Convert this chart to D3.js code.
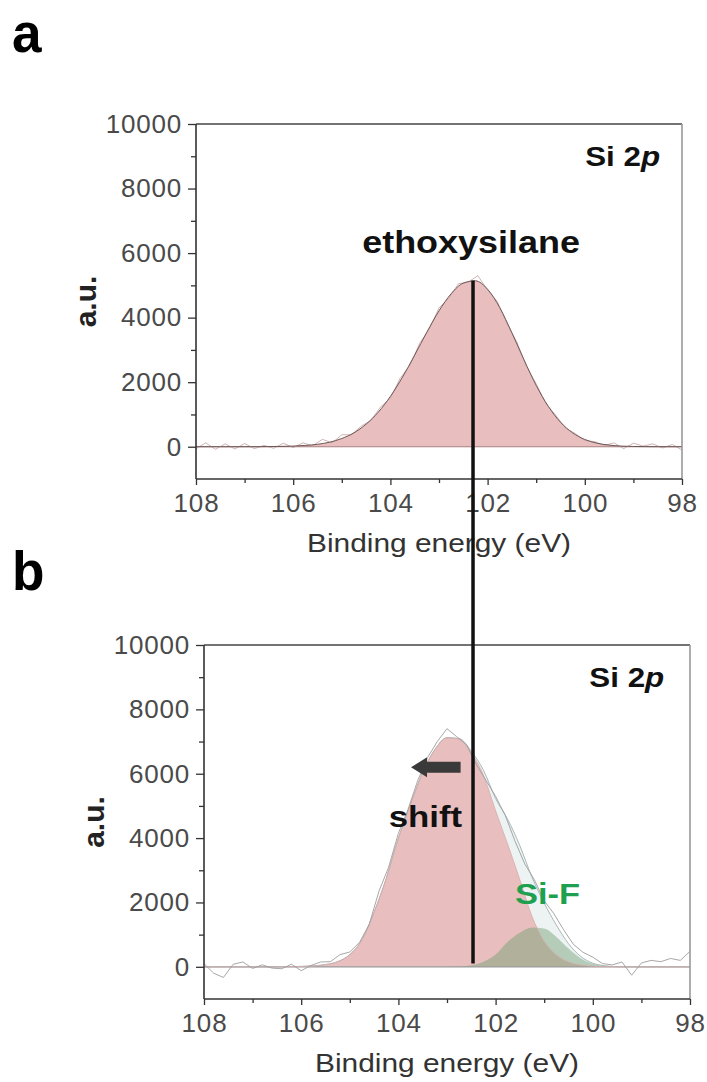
<!DOCTYPE html>
<html>
<head>
<meta charset="utf-8">
<script src="https://cdn.jsdelivr.net/npm/d3@7"></script>
<style>
  body { margin: 0; background: #fff; }
  svg { display: block; }
</style>
</head>
<body>
<svg id="fig" width="707" height="1082"></svg>
<script>
// values
const fitEnergy = [108, 107.75, 107.5, 107.25, 107, 106.75, 106.5, 106.25, 106, 105.75,
  105.5, 105.25, 105, 104.75, 104.5, 104.25, 104, 103.75, 103.5, 103.25,
  103, 102.75, 102.5, 102.25, 102, 101.75, 101.5, 101.25, 101, 100.75,
  100.5, 100.25, 100, 99.75, 99.5, 99.25, 99, 98.75, 98.5, 98.25, 98];

// panel a: ethoxysilane component
const fitA = [0, 0, 0, 0, 0, 0, 5, 10, 20, 40,
  75, 140, 255, 430, 700, 1070, 1560, 2160, 2840, 3550,
  4210, 4740, 5070, 5140, 4880, 4310, 3530, 2690, 1900, 1250,
  760, 430, 225, 110, 50, 20, 8, 3, 0, 0, 0];

// panel b: main (shifted) component and Si-F component
const fitBMain = [0, 0, 0, 0, 0, 0, 0, 5, 12, 30,
  70, 160, 380, 840, 1700, 2750, 4000, 5050, 6050, 6750,
  7120, 7080, 6650, 5950, 4850, 3800, 2700, 1560, 790, 370,
  150, 55, 18, 5, 0, 0, 0, 0, 0, 0, 0];
const fitBSiF = [0, 0, 0, 0, 0, 0, 0, 0, 0, 0,
  0, 0, 0, 0, 0, 0, 0, 0, 0, 0,
  0, 15, 50, 160, 380, 780, 1060, 1220, 1190, 930,
  570, 270, 95, 28, 6, 0, 0, 0, 0, 0, 0];

const rawEnergy = [108, 107.8, 107.6, 107.4, 107.2, 107, 106.8, 106.6, 106.4, 106.2,
  106, 105.8, 105.6, 105.4, 105.2, 105, 104.8, 104.6, 104.4, 104.2,
  104, 103.8, 103.6, 103.4, 103.2, 103, 102.8, 102.6, 102.4, 102.2,
  102, 101.8, 101.6, 101.4, 101.2, 101, 100.8, 100.6, 100.4, 100.2,
  100, 99.8, 99.6, 99.4, 99.2, 99, 98.8, 98.6, 98.4, 98.2, 98];
const rawA = [-60, 120, -80, 90, -70, 100, -60, 40, -50, 110,
  -30, 120, 30, 230, 120, 370, 370, 640, 810, 1240,
  1500, 2120, 2510, 3200, 3640, 4300, 4600, 5050, 5100, 5300,
  4850, 4500, 3800, 3250, 2480, 1950, 1330, 980, 580, 410,
  190, 160, 40, 120, -60, 110, 20, 90, -40, 70, -100];
const rawB = [100, -200, -330, 80, 150, -50, 60, -40, -60, 80,
  -120, 40, 150, 160, 380, 460, 760, 1320, 2350, 3100,
  4150, 4900, 5800, 6500, 7000, 7400, 7150, 6900, 6300, 5800,
  5300, 4700, 3900, 3200, 2700, 2050, 1650, 1150, 700, 450,
  300, 100, 60, 150, -260, 120, 200, 160, 260, 200, 480];

const yMajor = [0, 2000, 4000, 6000, 8000, 10000];
const yMinor = [1000, 3000, 5000, 7000, 9000];
const xMajor = [108, 106, 104, 102, 100, 98];
const xMinor = [107, 105, 103, 101, 99];

const markerEnergy = 102.3;   // vertical reference line
const markerTopA = 5150;
const markerBottomB = 100;
const arrowFrom = 102.72, arrowTo = 103.74, arrowLevel = 6200;

const FONT = '"Liberation Sans", Arial, Helvetica, sans-serif';
const svg = d3.select("#fig").style("font-family", FONT);

const panels = [
  { key: "a", xr: [196, 682], yr: [479, 124], letterY: 52 },
  { key: "b", xr: [204, 690], yr: [999, 645], letterY: 590 }
];

function label(g, x, y, opts, parts) {
  const t = g.append("text")
    .attr("transform", `translate(${x},${y}) scale(${opts.sx || 1},1)`)
    .attr("text-anchor", opts.anchor || "start")
    .attr("font-size", opts.size)
    .attr("font-weight", opts.weight || "normal")
    .attr("fill", opts.fill || "#111");
  parts.forEach((p) => {
    t.append("tspan").attr("font-style", p.italic ? "italic" : "normal").text(p.text);
  });
  return t;
}

function drawFrame(g, x, y) {
  const [x0, x1] = x.range();
  const [y0, y1] = y.range();

  const styleAxis = (sel) => {
    sel.select(".domain").remove();
    sel.selectAll("line").attr("stroke", "#333").attr("stroke-width", 1.3);
    sel.selectAll("text").attr("font-size", 26).attr("fill", "#4a4a4a")
      .attr("letter-spacing", 0.8).attr("font-family", FONT);
  };

  g.append("g").attr("transform", `translate(${x0},0)`)
    .call(d3.axisLeft(y).tickValues(yMinor).tickSize(5).tickFormat(""))
    .call(styleAxis);
  g.append("g").attr("transform", `translate(${x0},0)`)
    .call(d3.axisLeft(y).tickValues(yMajor).tickSize(8).tickPadding(6).tickFormat(d3.format("d")))
    .call(styleAxis);
  g.append("g").attr("transform", `translate(0,${y0})`)
    .call(d3.axisBottom(x).tickValues(xMinor).tickSize(4).tickFormat(""))
    .call(styleAxis);
  g.append("g").attr("transform", `translate(0,${y0})`)
    .call(d3.axisBottom(x).tickValues(xMajor).tickSize(6).tickPadding(9).tickFormat(d3.format("d")))
    .call(styleAxis);

  g.append("line").attr("x1", x0).attr("x2", x1).attr("y1", y1).attr("y2", y1)
    .attr("stroke", "#444").attr("stroke-width", 1.3);
  g.append("line").attr("x1", x1).attr("x2", x1).attr("y1", y1).attr("y2", y0)
    .attr("stroke", "#999").attr("stroke-width", 1.6);
  g.append("line").attr("x1", x0).attr("x2", x0).attr("y1", y1).attr("y2", y0)
    .attr("stroke", "#333").attr("stroke-width", 1.6);
  g.append("line").attr("x1", x0).attr("x2", x1).attr("y1", y0).attr("y2", y0)
    .attr("stroke", "#333").attr("stroke-width", 1.6);

  label(g, (x0 + x1) / 2, y0 + 73, { anchor: "middle", size: 26, sx: 1.15, fill: "#333" },
    [{ text: "Binding energy (eV)" }]);

  g.append("text")
    .attr("transform", `translate(${x0 - 111},${(y0 + y1) / 2}) rotate(-90)`)
    .attr("text-anchor", "middle")
    .attr("dy", "0.35em")
    .attr("font-size", 30)
    .attr("font-weight", "bold")
    .attr("fill", "#222")
    .text("a.u.");
}

const scales = {};

panels.forEach((p) => {
  const x = d3.scaleLinear().domain([108, 98]).range(p.xr);
  const y = d3.scaleLinear().domain([-1000, 10000]).range(p.yr);
  scales[p.key] = { x, y };
  const g = svg.append("g");

  g.append("clipPath").attr("id", `clip-${p.key}`)
    .append("rect")
    .attr("x", p.xr[0]).attr("y", p.yr[1])
    .attr("width", p.xr[1] - p.xr[0]).attr("height", p.yr[0] - p.yr[1]);
  const plot = g.append("g").attr("clip-path", `url(#clip-${p.key})`);

  const area = (vals) => d3.area()
    .x((d, i) => x(fitEnergy[i]))
    .y0(y(0))
    .y1((d, i) => y(vals[i]))
    .curve(d3.curveMonotoneX)(vals);
  const line = (vals, en) => d3.line()
    .x((d, i) => x(en[i]))
    .y((d) => y(d))
    .curve(d3.curveMonotoneX)(vals);
  const rawLine = (vals) => d3.line()
    .x((d, i) => x(rawEnergy[i]))
    .y((d) => y(d))(vals);

  if (p.key === "a") {
    plot.append("path").attr("d", area(fitA)).attr("fill", "#e8bfbe");
    plot.append("line").attr("x1", p.xr[0]).attr("x2", p.xr[1]).attr("y1", y(0)).attr("y2", y(0))
      .attr("stroke", "#a98080").attr("stroke-width", 1.2);
    plot.append("path").attr("d", rawLine(rawA)).attr("fill", "none")
      .attr("stroke", "#c9aaaa").attr("stroke-width", 0.9);
    plot.append("path").attr("d", line(fitA, fitEnergy)).attr("fill", "none")
      .attr("stroke", "#6e5656").attr("stroke-width", 1);
  } else {
    const envelope = fitBMain.map((v, i) => v + fitBSiF[i]);
    plot.append("path").attr("d", area(envelope)).attr("fill", "#edf3f3");
    plot.append("path").attr("d", area(fitBMain)).attr("fill", "#e8bfbe");
    plot.append("path").attr("d", area(fitBSiF)).attr("fill", "#6f9d70").attr("fill-opacity", 0.45);
    plot.append("line").attr("x1", p.xr[0]).attr("x2", p.xr[1]).attr("y1", y(0)).attr("y2", y(0))
      .attr("stroke", "#999").attr("stroke-width", 1.2);
    plot.append("path").attr("d", line(envelope, fitEnergy)).attr("fill", "none")
      .attr("stroke", "#aab8b8").attr("stroke-width", 1);
    plot.append("path").attr("d", line(fitBMain, fitEnergy)).attr("fill", "none")
      .attr("stroke", "#d9a9a9").attr("stroke-width", 0.8);
    plot.append("path").attr("d", rawLine(rawB)).attr("fill", "none")
      .attr("stroke", "#9d9d9d").attr("stroke-width", 0.9);
  }

  drawFrame(g, x, y);

  // panel letter
  label(svg, 12, p.letterY, { size: 56, weight: "bold", sx: 0.95, fill: "#000" }, [{ text: p.key }]);

  label(g, x(p.key === "a" ? 98.45 : 98.53), y(8700),
    { anchor: "end", size: 28, weight: "bold", sx: 1.12, fill: "#111" },
    [{ text: "Si 2" }, { text: "p", italic: true }]);
});

const A = scales.a, B = scales.b;

label(svg, A.x(102.34), A.y(6000), { anchor: "middle", size: 31, weight: "bold", sx: 1.16, fill: "#111" },
  [{ text: "ethoxysilane" }]);
label(svg, B.x(102.69), B.y(4350), { anchor: "end", size: 29, weight: "bold", sx: 1.2, fill: "#111" },
  [{ text: "shift" }]);
label(svg, B.x(101.6), B.y(1940), { anchor: "start", size: 30, weight: "bold", sx: 1.15, fill: "#1fa050" },
  [{ text: "Si-F" }]);

// block arrow pointing to higher binding energy
const ax0 = B.x(arrowFrom), ax1 = B.x(arrowTo), ay = B.y(arrowLevel);
const head = 16, shaft = 5.5, half = 10;
svg.append("path")
  .attr("d", `M${ax0},${ay - shaft} L${ax1 + head},${ay - shaft} L${ax1 + head},${ay - half}
    L${ax1},${ay} L${ax1 + head},${ay + half} L${ax1 + head},${ay + shaft} L${ax0},${ay + shaft} Z`)
  .attr("fill", "#3a3a3a");

// vertical reference line crossing both panels
svg.append("line")
  .attr("x1", A.x(markerEnergy)).attr("x2", A.x(markerEnergy))
  .attr("y1", A.y(markerTopA)).attr("y2", B.y(markerBottomB))
  .attr("stroke", "#111").attr("stroke-width", 3.5);
</script>
</body>
</html>
